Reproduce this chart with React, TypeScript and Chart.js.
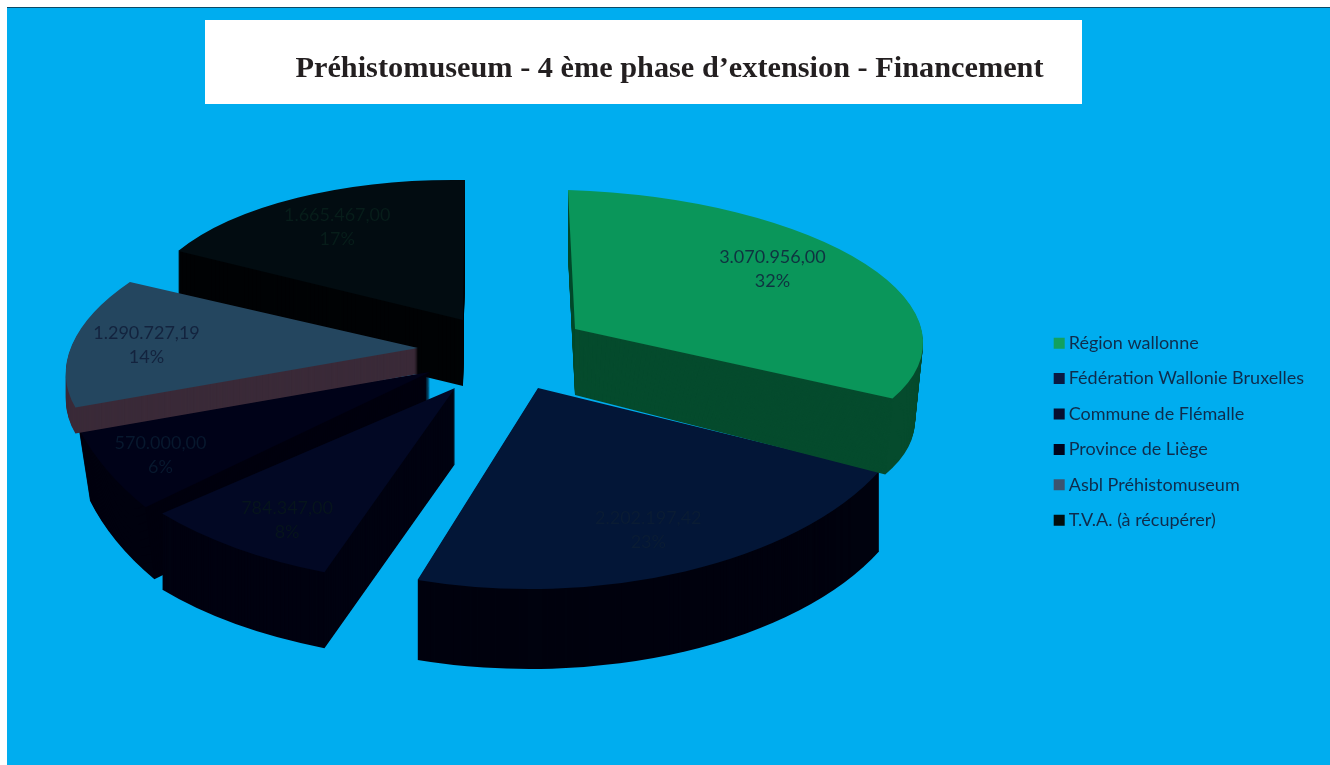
import React, { useEffect, useRef } from "react";
import { Chart, registerables } from "chart.js";

Chart.register(...registerables);

const TITLE = "Préhistomuseum - 4 ème phase d’extension - Financement";
const categories = [
  "Région wallonne",
  "Fédération Wallonie Bruxelles",
  "Commune de Flémalle",
  "Province de Liège",
  "Asbl Préhistomuseum",
  "T.V.A. (à récupérer)",
];
const amounts = [3070956.0, 2202197.42, 784347.0, 570000.0, 1290727.19, 1665467.0];
const amountLabels = ["3.070.956,00", "2.202.197,42", "784.347,00", "570.000,00", "1.290.727,19", "1.665.467,00"];
const percentLabels = ["32%", "23%", "8%", "6%", "14%", "17%"];

const topColors = ["#0a965a", "#031637", "#020824", "#000218", "#24465f", "#020c11"];
const sideColors = ["#054b2d", "#00020e", "#000210", "#00010e", "#3a2a38", "#000305"];
const legendColors = ["#12a15f", "#0a1a42", "#070f30", "#00041c", "#3c5470", "#020e0e"];
const labelColors = ["#0f3340", "#0a1c34", "#06141c", "#07182e", "#13233e", "#071d1a"];

// A 3D camera look: each slice has its own local projection of the pie plane.
// Angles and radii always come from the arc elements that Chart.js computes.
const sliceViews = [
  { ex: 575, ey: 329, a: 348, b: 7, c: 11, d: 139, depth: 66, a2: 340, c2: 22, lx: 0.68, ly: 0.92 },
  { ex: 538, ey: 388, a: 379, b: -3, c: -3, d: 201, depth: 80, a2: 379, c2: -3, lx: 0.75, ly: 0.777 },
  { ex: 455, ey: 388, a: 387, b: -11, c: 10, d: 197, depth: 76, a2: 387, c2: 10, lx: 0.767, ly: 0.824 },
  { ex: 430, ey: 372, a: 370, b: -17, c: 29, d: 232, depth: 72, a2: 358, c2: 29, lx: 0.833, ly: 0.856 },
  { ex: 418, ey: 348, a: 349, b: -47, c: -5, d: 153, depth: 26, a2: 349, c2: -5, lx: 0.785, ly: 0.78 },
  { ex: 463, ey: 320, a: 322, b: -2, c: 5, d: 140, depth: 66, a2: 322, c2: 5, lx: 0.76, ly: 0.76 },
];
const paintOrder = [5, 3, 4, 2, 1, 0];

const pie3d = {
  id: "pie3d",
  beforeDatasetsDraw(chart: any) {
    const { ctx } = chart;
    const arcs = chart.getDatasetMeta(0).data;
    paintOrder.forEach((i) => {
      const el = arcs[i];
      const v = sliceViews[i];
      const R = el.outerRadius;
      const project = (dy: number) => {
        const t = dy / v.depth;
        const a = v.a + (v.a2 - v.a) * t;
        const c = v.c + (v.c2 - v.c) * t;
        ctx.setTransform(a / R, c / R, v.b / R, v.d / R, v.ex, v.ey + dy);
        ctx.translate(-el.x, -el.y);
      };
      const trace = () => {
        ctx.beginPath();
        ctx.moveTo(el.x, el.y);
        ctx.arc(el.x, el.y, R, el.startAngle, el.endAngle);
        ctx.closePath();
      };
      ctx.save();
      ctx.fillStyle = sideColors[i];
      for (let dy = v.depth; dy > 0; dy--) {
        project(dy);
        trace();
        ctx.fill();
      }
      project(0);
      el.draw(ctx);
      ctx.restore();
    });
    ctx.save();
    ctx.font = "18px Lato";
    ctx.textAlign = "center";
    ctx.textBaseline = "middle";
    arcs.forEach((el: any, i: number) => {
      const v = sliceViews[i];
      const mid = (el.startAngle + el.endAngle) / 2;
      const cu = Math.cos(mid);
      const su = Math.sin(mid);
      const x = v.ex + (v.a * cu + v.b * su) * v.lx;
      const y = v.ey + (v.c * cu + v.d * su) * v.ly;
      ctx.fillStyle = labelColors[i];
      ctx.fillText(amountLabels[i], x, y - 12);
      ctx.fillText(percentLabels[i], x, y + 12);
    });
    ctx.restore();
    return false;
  },
};

export default function App() {
  const ref = useRef<HTMLCanvasElement>(null);
  useEffect(() => {
    document.body.style.margin = "0";
    const chart = new Chart(ref.current as HTMLCanvasElement, {
      type: "pie",
      plugins: [pie3d],
      data: {
        labels: categories,
        datasets: [{ data: amounts, backgroundColor: topColors, borderWidth: 0 }],
      },
      options: {
        responsive: false,
        animation: false,
        layout: { padding: { left: 25, right: 16, top: 0, bottom: 12 } },
        plugins: {
          tooltip: { enabled: false },
          title: {
            display: true,
            text: TITLE,
            color: "#231f20",
            font: { family: "'Liberation Serif'", size: 30.3, weight: "bold" },
            padding: { top: 51, bottom: 23 },
          },
          legend: {
            position: "right",
            fullSize: false,
            labels: {
              color: "#0f2c4c",
              font: { family: "Lato", size: 18 },
              usePointStyle: true,
              pointStyle: "rect",
              boxWidth: 1,
              boxHeight: 11,
              padding: 17.4,
              generateLabels: () =>
                categories.map((text, i) => ({
                  text,
                  fillStyle: legendColors[i],
                  strokeStyle: legendColors[i],
                  lineWidth: 0,
                  pointStyle: "rect",
                  index: i,
                  hidden: false,
                  fontColor: "#0f2c4c",
                })),
            },
          },
        },
      },
    } as any);
    return () => chart.destroy();
  }, []);
  return (
    <div style={{ position: "fixed", left: 0, top: 0, width: 1330, height: 765, background: "#fff", overflow: "hidden" }}>
      <div style={{ position: "absolute", left: 7, top: 7, right: 0, bottom: 0, background: "#00adef", borderTop: "1px solid #0b4a68" }} />
      <div style={{ position: "absolute", left: 205, top: 20, width: 877, height: 84, background: "#fff" }} />
      <canvas ref={ref} width={1330} height={765} style={{ position: "absolute", left: 0, top: 0, display: "block" }} />
    </div>
  );
}
